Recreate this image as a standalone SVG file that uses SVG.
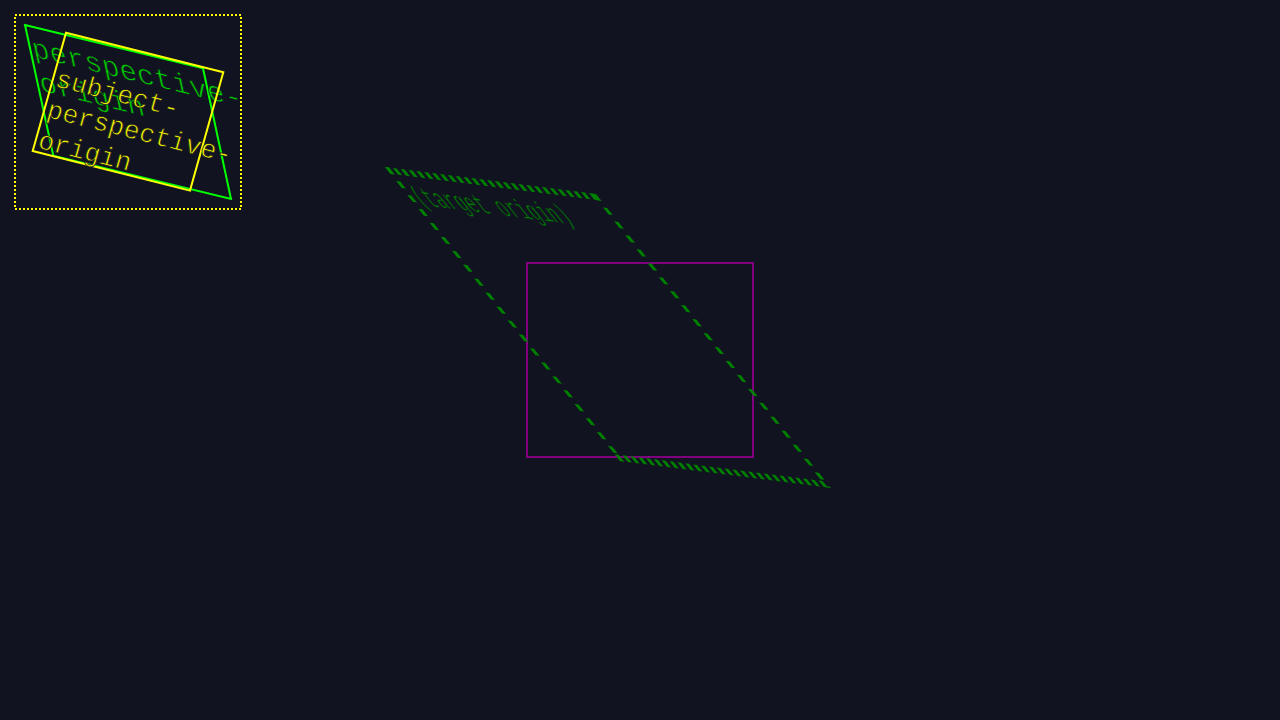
<svg xmlns="http://www.w3.org/2000/svg" width="1280" height="720" viewBox="0 0 1280 720">
<style>
.mono{font-family:"Liberation Mono","DejaVu Sans Mono",monospace}
.thin{stroke:#111420;stroke-width:0.7}
.gtxt{fill:#00cc00;font-size:29.5px}
.ytxt{fill:#eeee00;font-size:26px}
.dash{stroke:#008000;stroke-width:4.4;fill:none}
</style>
<rect x="0" y="0" width="1280" height="720" fill="#111420"/>
<g id="reference-box">
<rect x="15" y="15" width="226" height="194" fill="none" stroke="#ffff00" stroke-width="2" stroke-dasharray="2 2"/>
</g>
<g id="perspective-origin">
<polygon points="25,25 203,68.3 231,199 53.3,155.7" fill="none" stroke="#00ff00" stroke-width="2"/>
<text class="mono gtxt thin" transform="matrix(0.98889 0.24056 0.20963 0.96815 25 25)"><tspan x="2" y="32.3">perspective-</tspan><tspan x="2" y="67.8">origin</tspan></text>
</g>
<g id="subject-perspective-origin">
<polygon points="66,32.7 223.3,72.3 190,190.6 32.7,151" fill="none" stroke="#ffff00" stroke-width="2"/>
<text class="mono ytxt thin" transform="matrix(0.98313 0.2475 -0.2775 0.98583 66 32.7)"><tspan x="3" y="53.5">subject-</tspan><tspan x="3" y="84.7">perspective-</tspan><tspan x="3" y="115.9">origin</tspan></text>
</g>
<g id="target-box">
<rect x="527" y="263" width="226" height="194" fill="none" stroke="#800080" stroke-width="2"/>
</g>
<g id="transformed-box" transform="matrix(0.9336 0.1195 1.2113 1.5155 385 167)">
<line class="dash" x1="0" y1="2.2" x2="226" y2="2.2" stroke-dasharray="4.2 4.2"/>
<line class="dash" x1="0" y1="191.8" x2="226" y2="191.8" stroke-dasharray="4.2 4.2"/>
<line class="dash" x1="2.2" y1="0" x2="2.2" y2="194" stroke-dasharray="4.6 4.6"/>
<line class="dash" x1="223.8" y1="0" x2="223.8" y2="194" stroke-dasharray="4.6 4.6"/>
<text class="mono" x="6.5" y="24.5" font-size="18.5" fill="#008000" stroke="#111420" stroke-width="0.4">(target origin)</text>
</g>
</svg>
